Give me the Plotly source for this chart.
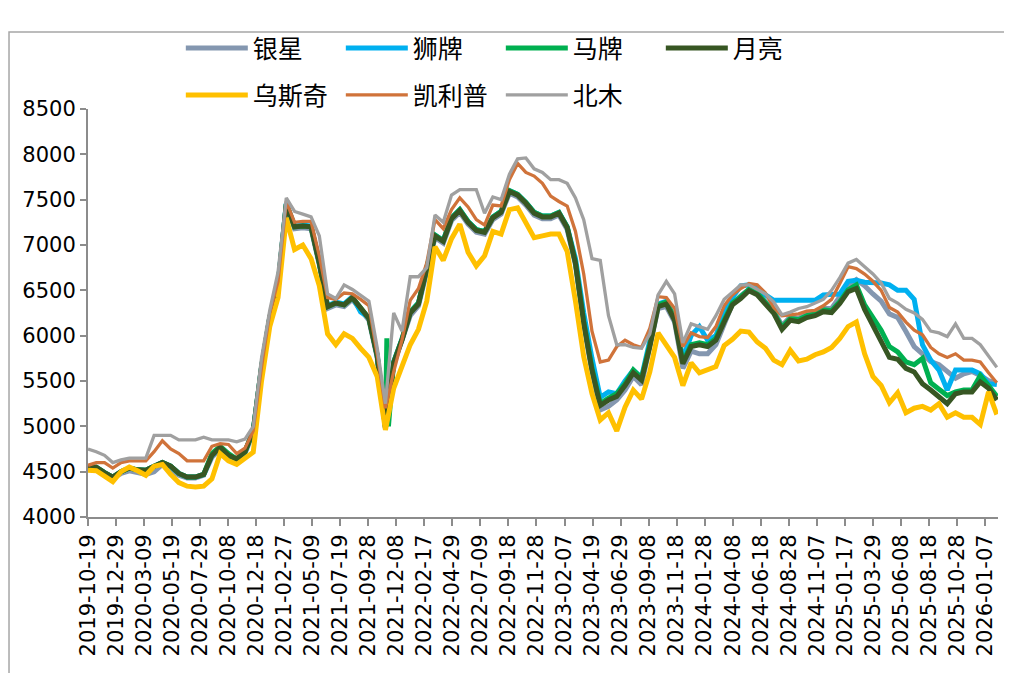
import pandas as pd
import plotly.graph_objects as go

# ---------------- data ----------------
START = "2019-10-19"
END = "2026-02-06"
N_POINTS = 111
dates = pd.date_range(START, END, periods=N_POINTS)

TICK_START = "2019-10-19"
TICK_COUNT = 33
TICK_STEP = "71D"

YINXING = [4530,4530,4470,4430,4480,4510,4490,4470,4500,4580,
           4520,4460,4430,4430,4460,4660,4750,4660,4620,4700,
           4930,5630,6180,6530,7430,7180,7190,7180,6780,6300,
           6340,6320,6400,6280,6170,5760,4990,5680,5930,6220,
           6330,6720,7080,7020,7270,7360,7230,7140,7120,7280,
           7340,7570,7530,7440,7330,7290,7290,7330,7170,6780,
           6120,5600,5180,5220,5290,5400,5550,5460,5850,6300,
           6320,6150,5640,5830,5800,5800,5900,6130,6350,6440,
           6510,6470,6370,6280,6110,6210,6190,6240,6260,6300,
           6300,6420,6560,6620,6550,6460,6380,6240,6200,6045,
           5880,5800,5715,5680,5605,5530,5580,5605,5560,5505,5475]

SHIPAI = [4550,4550,4490,4440,4500,4540,4520,4515,4560,4600,
          4560,4480,4440,4440,4470,4680,4770,4680,4640,4720,
          4950,5650,6200,6560,7460,7210,7220,7210,6810,6330,
          6370,6350,6430,6260,6200,5790,4990,5710,5960,6260,
          6360,6750,7110,7050,7300,7390,7260,7170,7150,7310,
          7370,7600,7560,7470,7360,7320,7320,7360,7200,6850,
          6250,5750,5320,5380,5360,5500,5620,5540,5920,6350,
          6380,6200,5750,6000,6100,5950,6000,6250,6420,6550,
          6560,6520,6450,6390,6390,6390,6390,6390,6390,6450,
          6450,6460,6600,6610,6590,6590,6580,6560,6500,6500,
          6400,5900,5730,5620,5400,5620,5620,5620,5580,5470,5460]

MAPAI = [4550,4550,4490,4440,4500,4540,4520,4515,4560,4600,
         4560,4480,4440,4440,4470,4700,4780,4700,4640,4720,
         4950,5650,6200,6550,7450,7200,7210,7200,6800,6320,
         6360,6340,6420,6300,6190,5780,4990,5710,5960,6260,
         6360,6750,7110,7050,7300,7390,7260,7170,7150,7310,
         7370,7600,7560,7470,7360,7320,7320,7360,7200,6810,
         6160,5640,5250,5310,5360,5470,5620,5530,5900,6340,
         6370,6190,5710,5900,5920,5900,5970,6170,6360,6430,
         6510,6470,6360,6260,6090,6190,6175,6220,6240,6285,
         6275,6375,6505,6560,6340,6200,6060,5880,5820,5710,
         5680,5750,5480,5410,5340,5380,5400,5400,5560,5450,5330]
MAPAI_SPIKE_DATES = ["2021-11-14", "2021-11-18"]
MAPAI_SPIKE_VALUES = [5970, 5000]

YUELIANG = [4550,4550,4490,4440,4500,4540,4520,4515,4560,4600,
            4560,4480,4440,4440,4470,4680,4770,4680,4640,4720,
            4950,5650,6200,6550,7450,7200,7210,7200,6800,6320,
            6360,6340,6420,6300,6190,5780,4980,5700,5950,6250,
            6350,6740,7100,7040,7290,7380,7250,7160,7140,7300,
            7360,7590,7550,7460,7350,7310,7310,7350,7190,6800,
            6140,5620,5230,5290,5330,5450,5590,5510,5880,6320,
            6350,6170,5690,5880,5900,5880,5950,6150,6340,6410,
            6495,6450,6340,6245,6070,6170,6155,6200,6220,6265,
            6255,6355,6485,6520,6290,6110,5950,5760,5740,5640,
            5600,5470,5400,5325,5250,5360,5380,5380,5490,5420,5290]

WUSIQI = [4515,4510,4450,4390,4500,4550,4510,4460,4560,4580,
          4470,4380,4340,4330,4340,4420,4700,4620,4580,4650,
          4715,5500,6100,6420,7300,6950,7000,6850,6550,6020,
          5900,6020,5970,5860,5760,5550,4960,5420,5680,5900,
          6070,6380,6980,6830,7070,7230,6920,6770,6880,7150,
          7120,7390,7410,7250,7080,7100,7120,7120,6930,6380,
          5770,5360,5070,5150,4950,5210,5400,5300,5600,6030,
          5900,5760,5450,5700,5590,5620,5660,5890,5960,6050,
          6040,5930,5860,5730,5680,5840,5720,5740,5790,5820,
          5870,5970,6100,6150,5800,5550,5450,5260,5370,5150,
          5200,5220,5180,5250,5100,5150,5100,5100,5020,5380,5130]

KAILIPU = [4570,4600,4600,4540,4600,4620,4620,4620,4720,4840,
           4750,4700,4620,4620,4620,4780,4810,4800,4700,4760,
           4950,5650,6250,6600,7480,7250,7260,7260,6880,6420,
           6400,6470,6460,6400,6330,5800,5200,5600,5950,6390,
           6520,6800,7280,7180,7390,7520,7420,7280,7220,7440,
           7430,7720,7900,7800,7760,7680,7540,7480,7430,7150,
           6680,6050,5710,5730,5880,5950,5900,5870,6080,6430,
           6420,6300,5880,6030,5990,5980,6100,6330,6450,6520,
           6575,6560,6470,6310,6220,6230,6240,6270,6280,6330,
           6400,6575,6760,6740,6680,6600,6500,6310,6260,6150,
           6060,6010,5870,5800,5760,5800,5730,5730,5710,5590,5480]

BEIMU = [4750,4720,4680,4600,4630,4650,4650,4650,4900,4900,
         4900,4850,4850,4850,4880,4850,4850,4850,4830,4860,
         5000,5750,6280,6700,7520,7370,7340,7310,7100,6460,
         6410,6560,6510,6450,6380,5870,5250,6250,6050,6650,
         6650,6750,7330,7250,7550,7610,7610,7610,7350,7530,
         7500,7780,7950,7960,7840,7800,7720,7720,7680,7520,
         7280,6850,6830,6220,5900,5900,5870,5860,6020,6450,
         6600,6460,5920,6130,6100,6070,6220,6400,6480,6560,
         6560,6510,6460,6370,6230,6260,6300,6320,6360,6400,
         6500,6640,6800,6840,6760,6680,6580,6410,6360,6290,
         6250,6180,6050,6030,5990,6130,5970,5970,5900,5780,5650]

# ---------------- figure ----------------
mapai = pd.concat([
    pd.Series(MAPAI, index=dates),
    pd.Series(MAPAI_SPIKE_VALUES, index=pd.to_datetime(MAPAI_SPIKE_DATES)),
]).sort_index()

series = [
    ("银星", pd.Series(YINXING, index=dates), "#8497B0", 5, "legend"),
    ("狮牌", pd.Series(SHIPAI, index=dates), "#00B0F0", 5, "legend"),
    ("马牌", mapai, "#00B050", 5, "legend"),
    ("月亮", pd.Series(YUELIANG, index=dates), "#375623", 5, "legend"),
    ("乌斯奇", pd.Series(WUSIQI, index=dates), "#FFC000", 5, "legend2"),
    ("凯利普", pd.Series(KAILIPU, index=dates), "#D0733A", 3.3, "legend2"),
    ("北木", pd.Series(BEIMU, index=dates), "#A0A0A0", 3.3, "legend2"),
]

fig = go.Figure()
for name, s, color, width, leg in series:
    fig.add_trace(go.Scatter(
        x=s.index, y=s.values, name=name, mode="lines",
        line=dict(color=color, width=width), legend=leg,
    ))

tickdates = pd.date_range(TICK_START, periods=TICK_COUNT, freq=TICK_STEP)
AXIS_COLOR = "#8C8C8C"
legend_common = dict(
    orientation="h", xanchor="left", yanchor="middle",
    font=dict(family="Noto Sans CJK SC", size=25, color="#000"),
    entrywidth=83, entrywidthmode="pixels", itemwidth=62,
    bgcolor="rgba(0,0,0,0)", traceorder="normal",
)

# page has an 8px body margin, so the figure is 8px smaller than the window
fig.update_layout(
    width=1004, height=665,
    margin=dict(l=80, r=14, t=101, b=156),
    plot_bgcolor="white", paper_bgcolor="white",
    font=dict(family="DejaVu Sans", size=21, color="#000"),
    legend=dict(x=0.102, y=1.149, **legend_common),
    legend2=dict(x=0.102, y=1.034, **legend_common),
    xaxis=dict(
        type="date", range=[START, "2026-02-09"],
        tickvals=tickdates, ticktext=[d.strftime("%Y-%m-%d") for d in tickdates],
        tickangle=-90, ticks="outside", ticklen=7, tickwidth=1.5, tickcolor=AXIS_COLOR,
        showline=True, linecolor=AXIS_COLOR, linewidth=2,
        showgrid=False, zeroline=False,
    ),
    yaxis=dict(
        range=[4000, 8500], tick0=4000, dtick=500,
        ticks="outside", ticklen=6, tickwidth=1.5, tickcolor=AXIS_COLOR,
        showline=True, linecolor=AXIS_COLOR, linewidth=2,
        showgrid=False, zeroline=False,
    ),
    shapes=[dict(
        type="rect", xref="paper", yref="paper",
        x0=-0.0868, x1=1.05, y0=-0.45, y1=1.1887,
        line=dict(color="#A6A6A6", width=1.5), fillcolor="rgba(0,0,0,0)", layer="below",
    )],
)

fig.write_html("out.html")
